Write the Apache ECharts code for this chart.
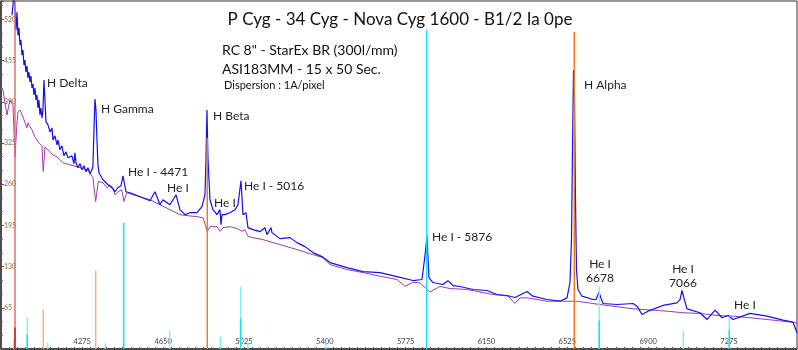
<!DOCTYPE html>
<html><head><meta charset="utf-8">
<script src="https://cdn.jsdelivr.net/npm/echarts@6/dist/echarts.min.js"></script>
<style>html,body{margin:0;padding:0;background:#fff;}#c{width:798px;height:350px;}</style>
</head><body><div id="c"></div>
<script>
// ---- data (wavelength in Angstrom, relative flux) ----
const xTickLabels = [4275,4650,5025,5400,5775,6150,6525,6900,7275];
const yTickStep = 65;

const blueSpectrum = [
[3948.9,526.7],[3953.5,542.4],[3958.1,566],[3962.8,534.6],[3967.4,503.1],[3972.1,531.4],[3976.7,495.2],[3981.3,506.2],
[3986.0,479.5],[3990.6,487.3],[3995.3,463.7],[3999.9,471.6],[4004.5,448.0],[4009.2,455.9],[4013.8,437.0],[4018.5,446.4],
[4023.1,427.5],[4027.7,437.0],[4032.4,421.2],[4037.0,430.7],[4041.6,411.8],[4046.3,418.1],[4050.9,400.8],[4055.6,411.8],
[4060.2,392.9],[4064.8,400.8],[4069.5,380.3],[4074.1,392.9],[4078.8,369.3],[4083.4,380.3],[4088.0,364.6],[4092.7,377.2],
[4097.3,424.4],[4101.9,392.9],[4106.6,358.3],[4115.9,353.5],[4125.2,342.5],[4134.4,348.8],[4139.1,329.9],[4148.3,336.2],
[4157.6,322.1],[4162.3,329.9],[4171.5,314.2],[4180.8,320.5],[4190.1,304.7],[4199.4,311.1],[4208.7,301.6],[4217.9,298.5],
[4227.2,304.7],[4236.5,292.2],[4241.1,309.5],[4245.8,293.7],[4255.0,285.9],[4264.3,292.2],[4273.6,282.7],[4282.9,289.0],
[4292.2,279.6],[4301.4,285.9],[4310.7,276.4],[4320.0,282.7],[4324.6,289.0],[4329.3,345.7],[4333.9,394.5],[4338.5,377.2],
[4343.2,329.9],[4347.8,290.6],[4352.5,278.0],
[4371.0,267.0],[4394.2,259.1],[4412.8,254.4],[4426.7,248.1],[4440.6,254.4],[4454.5,257.5],[4463.8,273.3],[4477.7,248.1],
[4496.3,246.5],[4519.5,243.4],[4542.7,240.2],[4565.9,237.1],[4589.1,233.9],[4612.2,248.1],[4635.4,227.6],[4649.4,235.5],
[4681.8,227.6],[4709.7,243.4],[4728.2,219.8],[4751.4,211.9],[4774.6,215.0],[4807.1,215.0],[4830.3,224.5],[4844.2,243.4],
[4848.9,300],[4853.5,377.2],[4858.1,300],[4867.4,235.5],[4881.3,219.8],[4899.9,211.9],[4913.8,219.8],[4918.4,196.2],
[4923.1,211.9],[4937.0,211.9],[4960.2,215.0],[4983.4,219.8],[4997.3,227.6],[5011.2,265.4],[5020.5,211.9],[5034.4,215.0],
[5043.7,191.4],[5066.9,188.3],[5099.3,185.1],[5122.5,191.4],[5131.8,180.4],[5150.4,191.4],[5155.0,183.6],[5192.1,174.1],
[5238.5,175.7],[5271.0,167.8],[5308.1,161.5],[5345.2,152.1],[5386.9,145.8],[5424.1,136.3],[5503.0,128.4],[5577.2,122.1],
[5656.0,120.6],[5735.0,114.3],[5809.1,108.0],[5850.9,109.6],[5864.8,147.4],[5874.0,177.3],[5883.3,112.7],[5901.9,104.9],
[5948.3,101.7],[5971.5,107.8],[5994.7,100.1],[6027.1,98.6],[6087.5,93.9],[6152.4,92.3],[6198.8,86.0],[6245.2,84.4],
[6282.3,81.2],[6338.0,90.7],[6365.8,83.3],[6430.7,78.1],[6491.0,75.4],[6523.5,80.7],[6537.4,104.9],[6544.4,172.5],
[6549.0,314.2],[6553.7,440.1],[6558.3,392.9],[6563.0,235.5],[6567.6,125.3],[6574.5,93.9],[6593.1,83.3],[6644.2,78.1],
[6658.1,78.1],[6672.1,89.6],[6681.3,80.0],[6690.6,71.8],[6755.6,70.2],[6829.8,71.8],[6848.3,67.6],[6871.5,54.5],
[6899.4,59.7],[6969.0,68.7],[7033.9,72.9],[7047.9,78.0],[7057.1,92.6],[7066.4,80.0],[7080.3,63.4],[7140.5,57.2],
[7173.0,46.6],[7210.1,61.2],[7242.6,49.3],[7270.5,52.9],[7293.7,46.6],[7372.5,56.1],[7451.4,51.8],[7525.4,45.5],
[7571.8,42.4],[7590.5,25.7]
];

const purpleSpectrum = [
[3893.2,411.8],[3907.1,408.6],[3925.7,369.3],[3939.6,392.9],[3953.5,385.0],[3962.8,303.2],[3972.1,356.7],[3976.7,374.0],
[3986.0,377.2],[3999.9,366.1],[4018.5,348.8],[4023.1,356.7],[4041.6,345.7],[4055.6,334.6],[4069.5,326.8],[4088.0,320.5],
[4094.1,280.0],[4101.9,318.9],[4125.2,311.0],[4139.1,306.3],[4157.6,303.2],[4171.5,298.5],[4185.5,293.7],[4217.9,290.6],
[4250.4,287.4],[4264.3,285.9],[4296.8,282.7],[4310.7,278.0],[4324.6,270.1],[4337.1,232.8],[4349.2,264.3],[4371.0,262.3],
[4389.6,254.4],[4403.5,259.1],[4417.4,254.4],[4426.7,243.4],[4440.6,248.1],[4457.8,251.2],[4468.4,232.8],[4481.0,246.5],
[4510.2,243.4],[4542.7,240.2],[4589.1,235.5],[4635.4,227.6],[4681.8,219.8],[4728.2,211.9],[4765.3,210.3],[4807.1,208.7],
[4834.9,207.2],[4854.9,185.6],[4867.4,193.0],[4899.9,193.0],[4913.8,185.6],[4927.7,191.4],[4960.2,193.0],[4992.7,190.0],
[5015.8,185.6],[5029.8,188.3],[5043.7,177.7],[5066.9,175.7],[5113.3,172.5],[5192.1,164.7],[5271.0,156.8],[5345.2,148.9],
[5391.6,144.2],[5424.1,133.2],[5503.0,125.3],[5577.2,120.6],[5656.0,114.7],[5735.0,109.6],[5772.0,99.0],[5809.1,105.3],
[5841.6,104.3],[5887.9,89.9],[5934.4,98.6],[5980.8,95.4],[6059.6,93.9],[6180.2,86.0],[6249.9,83.6],[6282.3,71.8],
[6305.5,80.5],[6338.0,80.8],[6430.7,75.4],[6523.5,75.4],[6569.9,75.4],[6676.6,70.2],[6829.8,63.4],[6987.4,59.7],
[7061.6,57.2],[7140.5,56.1],[7219.4,52.9],[7293.7,51.8],[7372.5,49.3],[7451.4,46.6],[7590.5,41.4]
];

// reference line markers: [wavelength, height]
const lightCyanLines = [[3958.1,18.1],[4019.8,49.8],[4114.5,10.4],[4381.7,8.8],[4680.4,29.3],[4915.2,19.8],[5009.8,98.6],
  [5043.7,10.4],[5405.5,10.4],[6673.3,98.6],[7063.0,29.3],[7276.5,51.3]];
const cyanLines = [[4019.8,23.0],[4467.0,199.3],[5009.8,48.2],[5872.6,503.1],[6673.3,45],[7276.5,30]];
const orangeLines = [[4854.9,333.1],[6557.4,500]];
const lightOrangeLines = [[4094.1,62.4],[4337.1,123.7]];
const lightRedLines = [[3962.8,548]];
const darkRedLines = [[3962.8,34.0]];

const annotations = [
  ['H Delta',47,83],['H Gamma',101,109],['H Beta',213,116],['He I - 4471',128,172],['He I',167,188],
  ['He I',214,203],['He I - 5016',244,186],['He I - 5876',432,237],['H Alpha',584,85],['He I',734,305]
];
const centeredAnnotations = [['He I',600,264],['6678',600,278],['He I',683,269],['7066',683,283]];

// ---- chart ----
const chart = echarts.init(document.getElementById('c'), null, {renderer:'canvas'});
function markerSeries(data, color, width, z){
  return {type:'custom', data:data, z:z, clip:true, silent:true,
    renderItem:function(params, api){
      const a = api.coord([api.value(0),0]);
      const b = api.coord([api.value(0),api.value(1)]);
      return {type:'line', shape:{x1:a[0],y1:a[1],x2:b[0],y2:b[1]}, style:{stroke:color, lineWidth:width}};
    }};
}
const minorX = [];
for (let v = xTickLabels[0]-375; v <= 7590; v += 37.5) minorX.push(v);

const FONT = 'Lato, "Open Sans", sans-serif';
const graphics = [];
graphics.push({type:'text', x:400, y:20, style:{text:'P Cyg - 34 Cyg - Nova Cyg 1600 - B1/2 Ia 0pe', font:'17px '+FONT, fill:'#111', align:'center', verticalAlign:'middle'}});
graphics.push({type:'text', x:222, y:50, style:{text:'RC 8" - StarEx BR (300l/mm)', font:'14px '+FONT, fill:'#111', verticalAlign:'middle'}});
graphics.push({type:'text', x:222, y:69, style:{text:'ASI183MM - 15 x 50 Sec.', font:'14px '+FONT, fill:'#111', verticalAlign:'middle'}});
graphics.push({type:'text', x:224, y:85, style:{text:'Dispersion : 1A/pixel', font:'11px '+FONT, fill:'#111', verticalAlign:'middle'}});
annotations.forEach(a => graphics.push({type:'text', x:a[1], y:a[2], style:{text:a[0], font:'12px '+FONT, fill:'#222', verticalAlign:'middle'}}));
centeredAnnotations.forEach(a => graphics.push({type:'text', x:a[1], y:a[2], style:{text:a[0], font:'12px '+FONT, fill:'#222', align:'center', verticalAlign:'middle'}}));

chart.setOption({
  animation:false,
  backgroundColor:'#fff',
  grid:{left:1,right:1,top:1,bottom:1, show:true, borderColor:'#333', borderWidth:1},
  xAxis:{type:'value', min:3898, max:7590.5,
    axisLine:{show:true, onZero:false, lineStyle:{color:'#333', width:1.5}},
    axisTick:{show:true, inside:true, length:2, customValues:minorX, lineStyle:{color:'#555'}},
    axisLabel:{inside:true, margin:3, fontSize:7.5, color:'#444', fontFamily:FONT, customValues:xTickLabels,
      formatter:function(v){ return String(v); }},
    splitLine:{show:false}},
  yAxis:{type:'value', min:0, max:549, interval:yTickStep,
    axisLine:{show:true, lineStyle:{color:'#333', width:1.5}},
    axisTick:{show:true, inside:true, length:3, lineStyle:{color:'#555'}},
    minorTick:{show:true, splitNumber:3, length:2, lineStyle:{color:'#777'}},
    axisLabel:{inside:true, margin:3, fontSize:7, color:'#8b6b3d', fontFamily:FONT, showMinLabel:false, showMaxLabel:false},
    splitLine:{show:false}},
  graphic:graphics,
  series:[
    {type:'line', data:purpleSpectrum, showSymbol:false, symbol:'none', z:3, lineStyle:{color:'#a03ab0', width:1}},
    {type:'line', data:blueSpectrum, showSymbol:false, symbol:'none', z:4, lineStyle:{color:'#1010f5', width:1.2}},
    markerSeries(lightCyanLines,'#7ff2f5',1.5,5),
    markerSeries(cyanLines,'#10e4ee',1.5,6),
    markerSeries(lightOrangeLines,'#f8b47c',1.5,5),
    markerSeries(orangeLines,'#f27a14',1.5,6),
    markerSeries(lightRedLines,'#dc7070',1.5,5),
    markerSeries(darkRedLines,'#c02818',1.5,6)
  ]
});
</script></body></html>
